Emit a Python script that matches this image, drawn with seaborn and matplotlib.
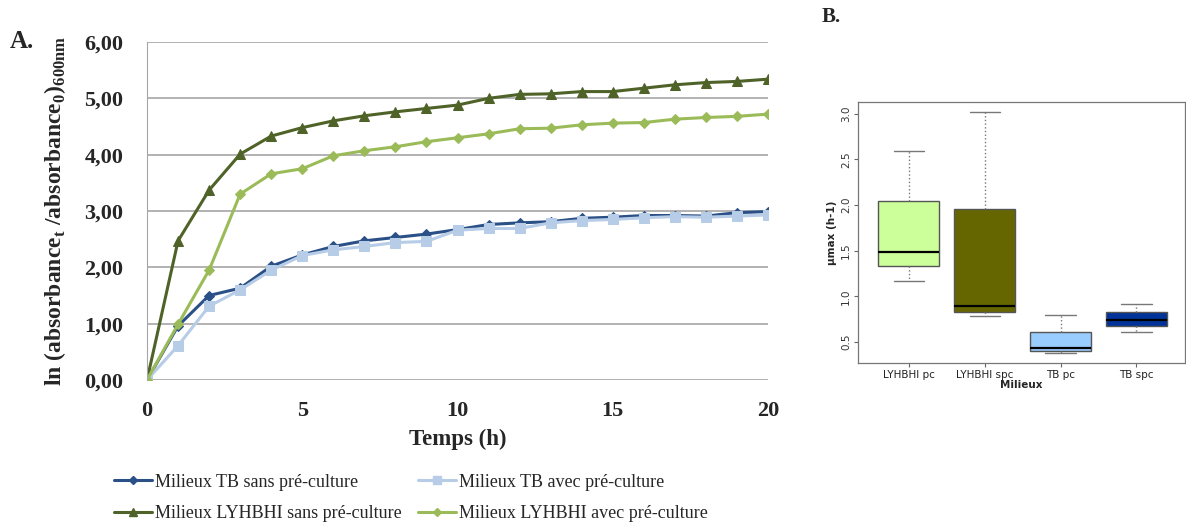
import numpy as np
import pandas as pd
import matplotlib.pyplot as plt
import seaborn as sns
from matplotlib.lines import Line2D

# growth curves, ln(abs_t / abs_0) at 600 nm
hours = list(range(21))
tb_sans = [0.00, 0.96, 1.50, 1.63, 2.02, 2.22, 2.37, 2.47, 2.53, 2.59, 2.67,
           2.76, 2.79, 2.81, 2.87, 2.89, 2.92, 2.92, 2.91, 2.97, 2.99]
tb_avec = [0.00, 0.61, 1.31, 1.60, 1.95, 2.21, 2.31, 2.37, 2.44, 2.46, 2.66,
           2.69, 2.69, 2.79, 2.83, 2.85, 2.88, 2.90, 2.89, 2.91, 2.93]
lyh_sans = [0.00, 2.47, 3.37, 4.01, 4.33, 4.48, 4.60, 4.69, 4.76, 4.82, 4.88,
            5.00, 5.07, 5.08, 5.12, 5.12, 5.18, 5.24, 5.28, 5.30, 5.34]
lyh_avec = [0.00, 0.99, 1.95, 3.30, 3.66, 3.75, 3.98, 4.07, 4.14, 4.23, 4.30,
            4.37, 4.46, 4.47, 4.53, 4.56, 4.57, 4.63, 4.66, 4.68, 4.72]
series_names = ["Milieux TB sans pré-culture", "Milieux TB avec pré-culture",
                "Milieux LYHBHI sans pré-culture", "Milieux LYHBHI avec pré-culture"]
y_ticks = [0, 1, 2, 3, 4, 5, 6]
y_ticklabels = ["0,00", "1,00", "2,00", "3,00", "4,00", "5,00", "6,00"]
x_ticks = [0, 5, 10, 15, 20]

# boxplot: min, q1, median, q3, max of mu max per medium
milieux = ["LYHBHI pc", "LYHBHI spc", "TB pc", "TB spc"]
mu_lyh_pc = [1.17, 1.33, 1.49, 2.04, 2.59]
mu_lyh_spc = [0.78, 0.83, 0.89, 1.96, 3.02]
mu_tb_pc = [0.38, 0.40, 0.43, 0.61, 0.80]
mu_tb_spc = [0.61, 0.68, 0.74, 0.83, 0.92]

colors = {series_names[0]: "#2a5087", series_names[1]: "#b7cce6",
          series_names[2]: "#4f6228", series_names[3]: "#9bbb59"}
markers = {series_names[0]: "D", series_names[1]: "s",
           series_names[2]: "^", series_names[3]: "D"}
msizes = {series_names[0]: 5.5, series_names[1]: 7.5, series_names[2]: 7.5, series_names[3]: 5.5}
box_colors = ["#ccff99", "#666600", "#99ccff", "#003399"]

sns.set_style("white")
plt.rcParams["font.family"] = ["Liberation Serif", "DejaVu Serif"]
plt.rcParams["mathtext.fontset"] = "custom"
plt.rcParams["mathtext.rm"] = "Liberation Serif:bold"
plt.rcParams["mathtext.bf"] = "Liberation Serif:bold"

fig = plt.figure(figsize=(11.86, 5.24), dpi=100)
W, H = 1186, 524
ax = fig.add_axes([147 / W, 1 - 380 / H, (768 - 147) / W, (380 - 42) / H])

long = pd.DataFrame({
    "Temps": hours * 4,
    "val": tb_sans + tb_avec + lyh_sans + lyh_avec,
    "serie": np.repeat(series_names, len(hours)),
})
for name in series_names:
    sub = long[long["serie"] == name]
    sns.lineplot(data=sub, x="Temps", y="val", ax=ax, color=colors[name],
                 marker=markers[name], markersize=msizes[name],
                 markeredgecolor=colors[name], linewidth=2.2, legend=False)

ax.set_xlim(0, 20)
ax.set_ylim(0, 6)
ax.set_yticks(y_ticks)
ax.set_yticklabels(y_ticklabels)
ax.set_xticks(x_ticks)
ax.grid(axis="y", color="#a6a6a6", linewidth=1.2)
ax.grid(axis="x", visible=False)
for s in ["top", "right", "bottom"]:
    ax.spines[s].set_visible(False)
ax.spines["left"].set_color("#a6a6a6")
ax.tick_params(axis="y", length=0, labelsize=16, pad=17)
ax.tick_params(axis="x", length=0, labelsize=16, pad=15)
for lab in ax.get_xticklabels() + ax.get_yticklabels():
    lab.set_fontweight("bold")
ax.set_xlabel("Temps (h)", fontsize=16.5, fontweight="bold", labelpad=6)
ax.set_ylabel(r"ln (absorbance$_{\mathrm{t}}$ /absorbance$_{\mathrm{0}}$)$_{\mathrm{600nm}}$",
              fontsize=17, fontweight="bold", labelpad=12)

handles = [Line2D([], [], color=colors[n], marker=markers[n], markersize=msizes[n] - 1.5,
                  linewidth=2.2, label=n) for n in series_names]
order = [0, 2, 1, 3]
fig.legend([handles[i] for i in order], [series_names[i] for i in order],
           ncol=2, loc="center left", bbox_to_anchor=(98 / W, 1 - 498 / H),
           frameon=False, fontsize=13, handlelength=2.1, handletextpad=0.15,
           columnspacing=0.9, labelspacing=0.8)

fig.text(10 / W, 1 - 42 / H, "A.", fontsize=18, fontweight="bold", va="center")
fig.text(822 / W, 1 - 17 / H, "B.", fontsize=15, fontweight="bold", va="center")

# right panel
bx = fig.add_axes([858 / W, 1 - 363 / H, (1185 - 858) / W, (363 - 102) / H])
box_df = pd.DataFrame({
    "Milieux": np.repeat(milieux, 5),
    "mu": mu_lyh_pc + mu_lyh_spc + mu_tb_pc + mu_tb_spc,
})
sns.boxplot(data=box_df, x="Milieux", y="mu", hue="Milieux", palette=box_colors,
            saturation=1, ax=bx, width=0.8, whis=(0, 100), linecolor="#555555",
            linewidth=1.0,
            medianprops=dict(color="black", linewidth=1.6),
            whiskerprops=dict(color="#777777", linestyle=":", linewidth=1.0),
            capprops=dict(color="#777777", linewidth=1.0), legend=False)
bx.set_xlim(-0.67, 3.64)
bx.set_ylim(0.27, 3.13)
bx.set_yticks([0.5, 1.0, 1.5, 2.0, 2.5, 3.0])
bx.set_yticklabels(["0.5", "1.0", "1.5", "2.0", "2.5", "3.0"], rotation=90, va="center",
                   family="DejaVu Sans", fontsize=7.5, color="#333333")
bx.set_xticks(range(4))
bx.set_xticklabels(milieux, family="DejaVu Sans", fontsize=7.5, color="#222222")
bx.tick_params(axis="both", length=3, width=0.8, color="#666666", pad=2, left=True, bottom=True)
for s in bx.spines.values():
    s.set_color("#777777")
    s.set_linewidth(0.9)
bx.set_xlabel("Milieux", family="DejaVu Sans", fontsize=7.5, fontweight="bold", labelpad=0)
bx.set_ylabel("µmax (h-1)", family="DejaVu Sans", fontsize=7.5, fontweight="bold", labelpad=3)

fig.savefig("out.png", dpi=100)
